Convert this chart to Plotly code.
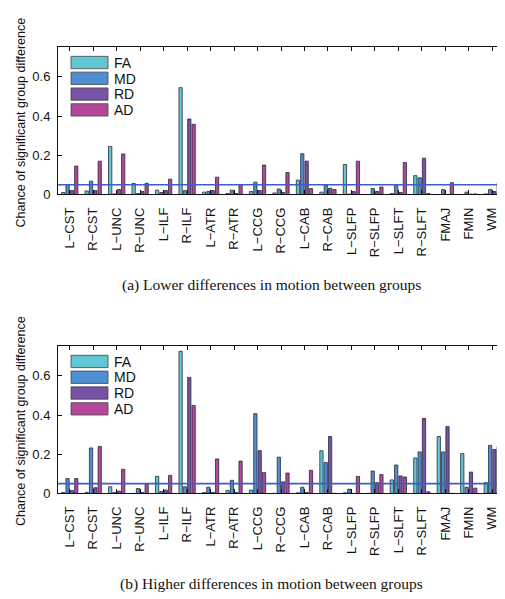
import plotly.graph_objects as go

categories = ["L−CST", "R−CST", "L−UNC", "R−UNC", "L−ILF", "R−ILF", "L−ATR", "R−ATR",
              "L−CCG", "R−CCG", "L−CAB", "R−CAB", "L−SLFP", "R−SLFP", "L−SLFT", "R−SLFT",
              "FMAJ", "FMIN", "WM"]
series_names = ["FA", "MD", "RD", "AD"]

# (a) Lower differences in motion between groups
FA_a = [0.010, 0.018, 0.245, 0.056, 0.022, 0.545, 0.012, 0.005, 0.015, 0.008, 0.073, 0.012, 0.153, 0.0, 0.005, 0.096, 0.0, 0.0, 0.003]
MD_a = [0.050, 0.068, 0.003, 0.005, 0.010, 0.020, 0.015, 0.022, 0.063, 0.028, 0.208, 0.048, 0.002, 0.030, 0.050, 0.085, 0.025, 0.012, 0.025]
RD_a = [0.020, 0.020, 0.025, 0.015, 0.020, 0.385, 0.020, 0.005, 0.020, 0.010, 0.170, 0.032, 0.015, 0.015, 0.010, 0.185, 0.0, 0.002, 0.015]
AD_a = [0.145, 0.170, 0.207, 0.057, 0.078, 0.358, 0.088, 0.050, 0.150, 0.112, 0.030, 0.025, 0.170, 0.038, 0.163, 0.005, 0.060, 0.003, 0.060]

# (b) Higher differences in motion between groups
FA_b = [0.005, 0.005, 0.034, 0.0, 0.087, 0.725, 0.005, 0.015, 0.017, 0.0, 0.003, 0.218, 0.003, 0.0, 0.069, 0.181, 0.290, 0.203, 0.055]
MD_b = [0.076, 0.232, 0.005, 0.025, 0.010, 0.034, 0.032, 0.067, 0.407, 0.185, 0.032, 0.158, 0.022, 0.114, 0.145, 0.212, 0.212, 0.032, 0.245]
RD_b = [0.015, 0.029, 0.012, 0.005, 0.017, 0.592, 0.005, 0.005, 0.218, 0.059, 0.005, 0.290, 0.0, 0.055, 0.089, 0.383, 0.341, 0.109, 0.224]
AD_b = [0.076, 0.240, 0.123, 0.050, 0.092, 0.449, 0.176, 0.165, 0.106, 0.104, 0.118, 0.0, 0.087, 0.096, 0.084, 0.008, 0.0, 0.027, 0.240]

threshold = 0.05
y_ticks = [0, 0.2, 0.4, 0.6]
y_ticktext = ["0", "0.2", "0.4", "0.6"]

colors = ["#62c6d4", "#4d8fd0", "#7752a6", "#b3479a"]

W, H = 505, 599
def px_x(v): return v / W
def px_y(v): return 1 - v / H

fig = go.Figure()
panels = [([FA_a, MD_a, RD_a, AD_a], "x", "y"), ([FA_b, MD_b, RD_b, AD_b], "x2", "y2")]
for vals, xa, ya in panels:
    for name, v, c in zip(series_names, vals, colors):
        fig.add_trace(go.Bar(x=categories, y=v, name=name, xaxis=xa, yaxis=ya,
                             marker=dict(color=c, line=dict(color="#2a2a3a", width=0.8)),
                             showlegend=False))

axis_font = dict(family="Liberation Sans, Arial, sans-serif", size=13, color="#111")
xcommon = dict(type="category", categoryorder="array", categoryarray=categories,
               showline=True, linecolor="#111", linewidth=1, mirror="ticks",
               ticks="inside", ticklen=4, tickcolor="#111", tickangle=-90,
               tickfont=axis_font, showgrid=False, zeroline=False,
               domain=[px_x(50), px_x(496)], ticklabelstandoff=7)
ycommon = dict(range=[0, 0.75], tickvals=y_ticks, ticktext=y_ticktext,
               showline=True, linecolor="#111", linewidth=1, mirror="ticks",
               ticks="inside", ticklen=4, tickcolor="#111",
               tickfont=axis_font, showgrid=False, zeroline=False, ticklabelstandoff=4)

fig.update_layout(
    width=W, height=H, margin=dict(l=0, r=0, t=0, b=0),
    paper_bgcolor="white", plot_bgcolor="white",
    barmode="group", bargap=0.26, bargroupgap=0.25,
    xaxis=dict(xcommon, anchor="y"),
    yaxis=dict(ycommon, anchor="x", domain=[px_y(189), px_y(40)]),
    xaxis2=dict(xcommon, anchor="y2"),
    yaxis2=dict(ycommon, anchor="x2", domain=[px_y(492), px_y(343)]),
)

shapes = []
annotations = []
for xa, ya in [("x", "y"), ("x2", "y2")]:
    shapes.append(dict(type="line", xref=f"{xa} domain", yref=ya, x0=0, x1=1,
                       y0=threshold, y1=threshold, line=dict(color="#3d5fc4", width=1.6)))

# legends (drawn as patches + text)
legend_tops = [49, 352]
for top in legend_tops:
    for i, (name, c) in enumerate(zip(series_names, colors)):
        y0 = top + i * 16
        shapes.append(dict(type="rect", xref="paper", yref="paper",
                           x0=px_x(63), x1=px_x(100), y0=px_y(y0 + 12.5), y1=px_y(y0),
                           fillcolor=c, line=dict(color="#444", width=0.8)))
        annotations.append(dict(text=name, xref="paper", yref="paper",
                                x=px_x(104), y=px_y(y0 + 6.5), xanchor="left", yanchor="middle",
                                showarrow=False, font=dict(family="Liberation Sans, Arial, sans-serif",
                                                           size=14, color="#111")))

# y-axis titles
for cy in [116, 418.5]:
    annotations.append(dict(text="Chance of significant group difference", xref="paper", yref="paper",
                            x=px_x(13), y=px_y(cy), xanchor="center", yanchor="middle",
                            textangle=-90, showarrow=False,
                            font=dict(family="Liberation Sans, Arial, sans-serif", size=12.5, color="#111")))

# captions
for txt, cy in [("(a) Lower differences in motion between groups", 280.5),
                ("(b) Higher differences in motion between groups", 583.5)]:
    annotations.append(dict(text=txt, xref="paper", yref="paper", x=px_x(263), y=px_y(cy),
                            xanchor="center", yanchor="middle", showarrow=False,
                            font=dict(family="Liberation Serif, Times New Roman, serif", size=15.5, color="#111")))

fig.update_layout(shapes=shapes, annotations=annotations)
fig.write_html("out.html")
